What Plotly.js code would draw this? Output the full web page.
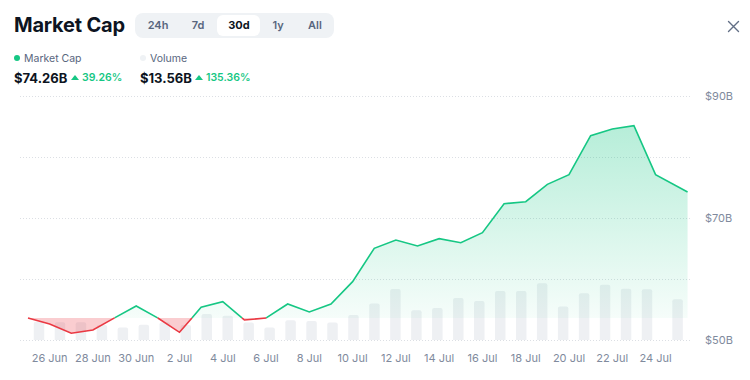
<!DOCTYPE html>
<html>
<head>
<meta charset="utf-8">
<script src="https://cdn.plot.ly/plotly-3.0.1.min.js"></script>
<style>
  html, body { margin:0; padding:0; background:#fff; }
  body { width:750px; height:380px; position:relative; overflow:hidden; font-family: Inter, "Noto Sans", sans-serif; }
  #chart { position:absolute; left:0; top:0; width:750px; height:380px; }
  .abs { position:absolute; white-space:nowrap; }
  #title { left:14px; top:15px; font-size:20px; line-height:20px; font-weight:700; color:#0d1421; letter-spacing:-0.2px; }
  #tabs { left:135px; top:13px; width:199px; height:25px; background:#eff2f5; border-radius:8px; }
  #tabs .sel { position:absolute; left:82px; top:2px; width:43px; height:21px; background:#fff; border-radius:6px; }
  #tabs span { position:absolute; top:0; line-height:25px; font-size:11px; font-weight:600; color:#58667e; transform:translateX(-50%); }
  #tabs span.on { color:#0d1421; font-weight:700; }
  .leg { top:53px; font-size:10.5px; line-height:12px; color:#58667e; }
  .dot { display:inline-block; width:6px; height:6px; border-radius:50%; margin-right:4px; vertical-align:1px; }
  .val { top:70px; font-size:13px; line-height:16px; font-weight:700; color:#0d1421; }
  .pct { top:71px; font-size:10.5px; line-height:14px; font-weight:600; color:#16c784; }
  .tri { display:inline-block; width:0; height:0; border-left:4px solid transparent; border-right:4px solid transparent; border-bottom:5px solid #16c784; margin-right:3px; vertical-align:1px; }
  #close { left:727px; top:20px; }
</style>
</head>
<body>
<div id="chart"></div>
<div id="title" class="abs">Market Cap</div>
<div id="tabs" class="abs">
  <div class="sel"></div>
  <span style="left:23px">24h</span>
  <span style="left:63px">7d</span>
  <span class="on" style="left:104px">30d</span>
  <span style="left:143px">1y</span>
  <span style="left:180px">All</span>
</div>
<div class="abs leg" style="left:14px"><span class="dot" style="background:#16c784"></span>Market Cap</div>
<div class="abs leg" style="left:140px"><span class="dot" style="background:#eff2f5"></span>Volume</div>
<div class="abs val" style="left:14px">$74.26B</div>
<div class="abs pct" style="left:71px"><span class="tri"></span>39.26%</div>
<div class="abs val" style="left:140px">$13.56B</div>
<div class="abs pct" style="left:195px"><span class="tri"></span>135.36%</div>
<svg id="close" class="abs" width="13" height="13" viewBox="0 0 13 13">
  <path d="M1.5 1.5 L11.5 11.5 M11.5 1.5 L1.5 11.5" stroke="#616e85" stroke-width="1.4" stroke-linecap="round"/>
</svg>
<script>
// ---- data ----
const dates = [
  '2024-06-25','2024-06-26','2024-06-27','2024-06-28','2024-06-29','2024-06-30',
  '2024-07-01','2024-07-02','2024-07-03','2024-07-04','2024-07-05','2024-07-06',
  '2024-07-07','2024-07-08','2024-07-09','2024-07-10','2024-07-11','2024-07-12',
  '2024-07-13','2024-07-14','2024-07-15','2024-07-16','2024-07-17','2024-07-18',
  '2024-07-19','2024-07-20','2024-07-21','2024-07-22','2024-07-23','2024-07-24',
  '2024-07-25 11:30'
];
const marketCap = [
  53.62, 52.62, 51.10, 51.64, 53.62, 55.57,
  53.60, 51.26, 55.36, 56.28, 53.28, 53.60,
  55.90, 54.59, 55.90, 59.56, 65.03, 66.39,
  65.41, 66.61, 65.95, 67.59, 72.34, 72.67,
  75.52, 77.10, 83.49, 84.59, 85.13, 77.10,
  74.26
];
const volDates = [
  '2024-06-25 12:00','2024-06-26 12:00','2024-06-27 12:00','2024-06-28 12:00','2024-06-29 12:00','2024-06-30 12:00',
  '2024-07-01 12:00','2024-07-02 12:00','2024-07-03 12:00','2024-07-04 12:00','2024-07-05 12:00','2024-07-06 12:00',
  '2024-07-07 12:00','2024-07-08 12:00','2024-07-09 12:00','2024-07-10 12:00','2024-07-11 12:00','2024-07-12 12:00',
  '2024-07-13 12:00','2024-07-14 12:00','2024-07-15 12:00','2024-07-16 12:00','2024-07-17 12:00','2024-07-18 12:00',
  '2024-07-19 12:00','2024-07-20 12:00','2024-07-21 12:00','2024-07-22 12:00','2024-07-23 12:00','2024-07-24 12:00',
  '2024-07-25 23:00'
];
const volume = [
  6.1, 5.9, 5.9, 5.0, 4.2, 5.1,
  5.9, 5.0, 8.7, 8.1, 5.8, 4.2,
  6.6, 6.3, 5.8, 8.3, 12.2, 17.0,
  9.9, 10.7, 14.0, 13.0, 16.3, 16.3,
  18.9, 11.2, 15.6, 18.4, 17.1, 16.9,
  13.56
];
const xTickStart = '2024-06-26';
const yTickVals = [50, 60, 70, 80, 90];
const yTickText = ['$50B', '', '$70B', '', '$90B'];

// ---- build baseline split ----
const GREEN = '#16c784', RED = '#ea3943';
const base = marketCap[0];
const t = dates.map(d => new Date(d.replace(' ', 'T') + 'Z').getTime());
const px = [], py = [];
for (let i = 0; i < t.length; i++) {
  if (i > 0) {
    const a = marketCap[i-1] - base, b = marketCap[i] - base;
    if (a * b < 0) {
      const f = a / (a - b);
      px.push(t[i-1] + f * (t[i] - t[i-1]));
      py.push(base);
    }
  }
  px.push(t[i]); py.push(marketCap[i]);
}
const iso = v => new Date(v).toISOString().replace('Z','');
const pxDates = px.map(iso);
const above = py.map(v => Math.max(v, base));
const below = py.map(v => Math.min(v, base));
const baseArr = py.map(() => base);
const gLine = py.map(v => v >= base - 1e-9 ? v : null);
const rLine = py.map(v => v <= base + 1e-9 ? v : null);

const DAY = 86400000;
const t0 = new Date('2024-06-25T00:00:00Z').getTime();
// line x scale: 25 Jun at 28px, 21.64 px/day, plot 20..692
const lineR0 = t0 - (8 / 21.64) * DAY;
const lineR1 = lineR0 + (672 / 21.64) * DAY;
// bar x scale
const barSlope = 608 / 29;
const barR0 = t0 + 0.5 * DAY - (19 / barSlope) * DAY;
const barR1 = barR0 + (672 / barSlope) * DAY;
// y scales: 6.1 px per $1B for market cap, 3 px per $1B for volume, 3px padding each side
const PADPX = 3, MC_PX = 6.1, VOL_PX = 3.0;
const plotH = 244 + 2 * PADPX;

const clear = { width:0, color:'rgba(0,0,0,0)' };
const traces = [
  { type:'bar', x: volDates, y: volume, xaxis:'x', yaxis:'y',
    width: 0.5 * DAY, marker:{ color:'#eef0f3', cornerradius:2 }, hoverinfo:'skip' },
  { type:'scatter', mode:'lines', x: pxDates, y: baseArr, xaxis:'x2', yaxis:'y2', line: clear, hoverinfo:'skip' },
  { type:'scatter', mode:'lines', x: pxDates, y: below, xaxis:'x2', yaxis:'y2', fill:'tonexty',
    fillcolor:'rgba(234,57,67,0.25)', line: clear, hoverinfo:'skip' },
  { type:'scatter', mode:'lines', x: pxDates, y: baseArr, xaxis:'x2', yaxis:'y2', line: clear, hoverinfo:'skip' },
  { type:'scatter', mode:'lines', x: pxDates, y: above, xaxis:'x2', yaxis:'y2', fill:'tonexty',
    fillgradient:{ type:'vertical', start: base, stop: 86,
      colorscale:[[0,'rgba(22,199,132,0.04)'],[1,'rgba(22,199,132,0.32)']] },
    line: clear, hoverinfo:'skip' },
  { type:'scatter', mode:'lines', x: pxDates, y: gLine, xaxis:'x2', yaxis:'y2',
    line:{ width:1.6, color:GREEN }, connectgaps:false },
  { type:'scatter', mode:'lines', x: pxDates, y: rLine, xaxis:'x2', yaxis:'y2',
    line:{ width:1.6, color:RED }, connectgaps:false }
];

const layout = {
  width:750, height:380,
  margin:{ l:20, r:58, t:96 - PADPX, b:40 - PADPX, pad:0 },
  paper_bgcolor:'#ffffff', plot_bgcolor:'#ffffff',
  showlegend:false,
  font:{ family:'Inter, "Noto Sans", sans-serif', size:11, color:'#808a9d' },
  xaxis:{ type:'date', range:[iso(barR0), iso(barR1)], visible:false, showgrid:false, zeroline:false, fixedrange:true },
  yaxis:{ range:[-PADPX / VOL_PX, (plotH - PADPX) / VOL_PX], visible:false, showgrid:false, zeroline:false, fixedrange:true },
  xaxis2:{ type:'date', overlaying:'x', anchor:'y2', side:'bottom',
    range:[iso(lineR0), iso(lineR1)], tick0: xTickStart, dtick: 2*DAY,
    tickformat:'%-d %b', showgrid:false, zeroline:false, showline:false, ticks:'',
    tickfont:{ size:11, color:'#808a9d' }, ticklabelstandoff: 7, fixedrange:true },
  yaxis2:{ overlaying:'y', anchor:'x2', side:'right', range:[50 - PADPX / MC_PX, 90 + PADPX / MC_PX],
    tickvals: yTickVals, ticktext: yTickText,
    showgrid:true, gridcolor:'#dcdfe4', griddash:'1px,2px', gridwidth:1, zeroline:false, showline:false, ticks:'',
    tickfont:{ size:11, color:'#808a9d' }, ticklabelstandoff: 12, fixedrange:true }
};

Plotly.newPlot('chart', traces, layout, { displayModeBar:false, staticPlot:true });
</script>
</body>
</html>
